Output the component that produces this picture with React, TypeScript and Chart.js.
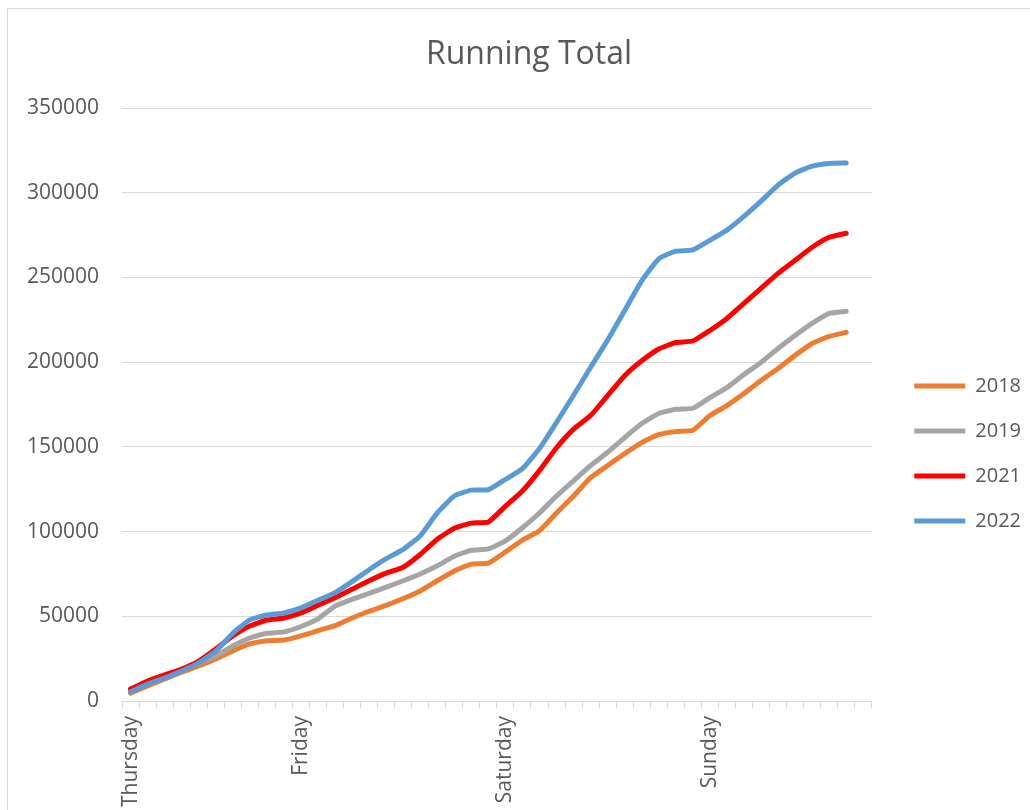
import { useEffect, useRef } from 'react';
import { Chart, registerables } from 'chart.js';

Chart.register(...registerables);

const categories = [
  'Thursday', '', '', '', '', '', '', '', '', '',
  'Friday', '', '', '', '', '', '', '', '', '', '', '',
  'Saturday', '', '', '', '', '', '', '', '', '', '', '',
  'Sunday', '', '', '', '', '', '', '', '', '',
];

const seriesNames = ['2018', '2019', '2021', '2022'];
const seriesColors = ['#ED7D31', '#A5A5A5', '#FF0000', '#5B9BD5'];

const values2018 = [
  4700, 8900, 13000, 17100, 20700, 24800, 29600, 33700, 35600, 36000,
  38500, 41500, 44500, 49000, 53000, 56500, 60500, 65000, 71000, 76800,
  80800, 81400, 88000, 95000, 100500, 111000, 121000, 131800, 139000, 146000,
  152500, 157200, 159000, 159800, 168500, 174400, 181500, 189200, 196300, 204000,
  211000, 215200, 217600,
];
const values2019 = [
  6000, 10500, 14500, 18000, 22500, 26600, 32500, 37200, 40000, 40800,
  44000, 48500, 56000, 60000, 63500, 67200, 71000, 75000, 79800, 85500,
  89000, 89800, 94500, 102300, 111000, 121000, 130000, 139000, 146800, 155500,
  163800, 169700, 172200, 172800, 179100, 185000, 192700, 199800, 208100, 215800,
  222900, 228800, 230000,
];
const values2021 = [
  7100, 11800, 15400, 18900, 23600, 30700, 38400, 44300, 47800, 49000,
  52000, 56500, 61000, 66000, 71000, 75500, 79000, 86500, 95500, 102000,
  105000, 105700, 115000, 124000, 136000, 149500, 160500, 168500, 180300, 192000,
  200800, 207800, 211600, 212500, 218700, 225800, 234700, 243600, 252400, 260100,
  267800, 273700, 276100,
];
const values2022 = [
  5500, 10000, 13600, 17700, 22500, 29500, 40000, 47900, 50800, 52000,
  55000, 59500, 64000, 70500, 77500, 84000, 89500, 97500, 111000, 121000,
  124500, 124700, 130800, 137200, 149000, 164500, 180500, 197000, 213000, 230500,
  248000, 261000, 265500, 266200, 271900, 277900, 286000, 295000, 304500, 311600,
  315700, 317300, 317500,
];

const yMin = 0;
const yMax = 350000;
const yStep = 50000;

const FONT = "'Open Sans', 'Noto Sans', sans-serif";
const TEXT = '#595959';
const GRID = '#D9D9D9';

export default function App() {
  const ref = useRef<HTMLCanvasElement | null>(null);

  useEffect(() => {
    if (!ref.current) return;
    const seriesValues = [values2018, values2019, values2021, values2022];
    const chart = new Chart(ref.current, {
      type: 'line',
      data: {
        labels: categories,
        datasets: seriesNames.map((name, i) => ({
          label: name,
          data: seriesValues[i],
          borderColor: seriesColors[i],
          backgroundColor: seriesColors[i],
          borderWidth: 5,
          pointRadius: 0,
          pointHoverRadius: 0,
          tension: 0.15,
          borderCapStyle: 'round' as const,
          borderJoinStyle: 'round' as const,
          fill: false,
          order: seriesNames.length - i,
        })),
      },
      options: {
        responsive: false,
        animation: false,
        layout: { padding: { left: 19, right: 0, top: 0, bottom: 14 } },
        plugins: {
          title: {
            display: true,
            text: 'Running Total',
            color: TEXT,
            font: { family: FONT, size: 32, weight: 'normal' },
            padding: { top: 27, bottom: 33.6 },
          },
          legend: {
            position: 'right',
            align: 'center',
            title: { display: true, text: '', padding: { top: 68.5, bottom: 0 } },
            labels: {
              usePointStyle: true,
              pointStyle: 'line',
              pointStyleWidth: 51,
              boxHeight: 20,
              padding: 25,
              color: TEXT,
              font: { family: FONT, size: 20 },
              sort: (a: any, b: any) => a.datasetIndex - b.datasetIndex,
            },
          },
          tooltip: { enabled: false },
        },
        scales: {
          x: {
            type: 'category',
            offset: true,
            grid: {
              display: true,
              offset: true,
              drawOnChartArea: false,
              drawTicks: true,
              tickLength: 7,
              color: GRID,
            },
            border: { display: true, color: GRID, width: 1 },
            ticks: {
              autoSkip: false,
              minRotation: 90,
              maxRotation: 90,
              padding: 8,
              color: TEXT,
              font: { family: FONT, size: 21 },
            },
          },
          y: {
            type: 'linear',
            min: yMin,
            max: yMax,
            ticks: {
              stepSize: yStep,
              padding: 23,
              color: TEXT,
              font: { family: FONT, size: 21 },
              callback: (v: any) => String(v),
            },
            grid: { color: GRID, drawTicks: false },
            border: { display: false },
            afterFit: (s: any) => {
              s.width = s.width - 23;
            },
          },
          spacer: {
            type: 'linear',
            position: 'right',
            display: true,
            grid: { display: false, drawOnChartArea: false },
            ticks: { display: false },
            border: { display: false },
            afterFit: (s: any) => {
              s.width = 17.5;
            },
          },
        },
      } as any,
    });
    return () => chart.destroy();
  }, []);

  return (
    <div
      style={{
        position: 'fixed',
        left: 0,
        top: 0,
        width: 1030,
        height: 810,
        overflow: 'hidden',
        background: '#fff',
      }}
    >
      <div
        style={{
          position: 'absolute',
          left: 7,
          top: 8,
          width: 1040,
          height: 830,
          border: '1px solid #D9D9D9',
        }}
      >
        <canvas ref={ref} width={1023} height={820} style={{ display: 'block', width: 1023, height: 820 }} />
      </div>
    </div>
  );
}
